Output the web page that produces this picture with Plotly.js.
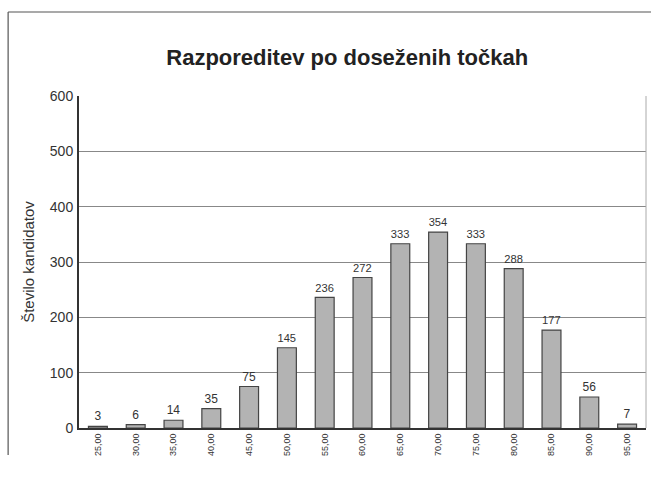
<!DOCTYPE html>
<html>
<head>
<meta charset="utf-8">
<script src="https://cdn.plot.ly/plotly-3.0.1.min.js"></script>
<style>html,body{margin:0;padding:0;background:#fff;}#chart{width:651px;height:489px;}</style>
</head>
<body>
<div id="chart"></div>
<script>
var categories = ["25,00","30,00","35,00","40,00","45,00","50,00","55,00","60,00","65,00","70,00","75,00","80,00","85,00","90,00","95,00"];
var counts = [3, 6, 14, 35, 75, 145, 236, 272, 333, 354, 333, 288, 177, 56, 7];
var yTicks = [0, 100, 200, 300, 400, 500, 600];

var trace = {
  type: 'bar',
  x: categories,
  y: counts,
  text: counts.map(String),
  textposition: 'outside',
  cliponaxis: false,
  textfont: {family: 'Liberation Sans, Arial, sans-serif', size: 12, color: '#333'},
  marker: {color: '#b3b3b3', line: {color: '#444', width: 1.2}},
  hoverinfo: 'none'
};

var layout = {
  width: 651, height: 489,
  margin: {l: 79, r: 5, t: 96, b: 61},
  paper_bgcolor: '#ffffff',
  plot_bgcolor: '#ffffff',
  bargap: 0.5,
  showlegend: false,
  font: {family: 'Liberation Sans, Arial, sans-serif', color: '#333'},
  title: {
    text: '<b>Razporeditev po doseženih točkah</b>',
    font: {family: 'Liberation Sans, Arial, sans-serif', size: 22, color: '#222'},
    xref: 'paper', x: 0.473, xanchor: 'center',
    yref: 'container', y: 0.883, yanchor: 'middle'
  },
  xaxis: {
    type: 'category',
    tickangle: -90,
    tickfont: {size: 9, color: '#333'},
    showline: true, linecolor: '#333', linewidth: 2,
    ticks: '', showgrid: false, zeroline: false,
    mirror: false
  },
  yaxis: {
    range: [0, 600],
    tickvals: yTicks,
    ticktext: yTicks.map(String),
    tickfont: {size: 14, color: '#333'},
    ticklabelstandoff: 1,
    showline: true, linecolor: '#333', linewidth: 2,
    showgrid: true, gridcolor: '#888', gridwidth: 1,
    zeroline: false,
    ticks: '',
    title: {text: 'Število kandidatov', font: {size: 15, color: '#333'}, standoff: 12}
  },
  shapes: [
    {type: 'line', xref: 'paper', yref: 'paper', x0: 1, x1: 1, y0: 0, y1: 1, line: {color: '#aaa', width: 1}},
    {type: 'line', xref: 'paper', yref: 'paper', x0: -0.125, x1: 1.01, y0: 1.253, y1: 1.253, line: {color: '#555', width: 1.2}},
    {type: 'line', xref: 'paper', yref: 'paper', x0: -0.125, x1: -0.125, y0: 1.253, y1: -0.081, line: {color: '#555', width: 1.2}}
  ]
};

Plotly.newPlot('chart', [trace], layout, {displayModeBar: false, staticPlot: true});
</script>
</body>
</html>
